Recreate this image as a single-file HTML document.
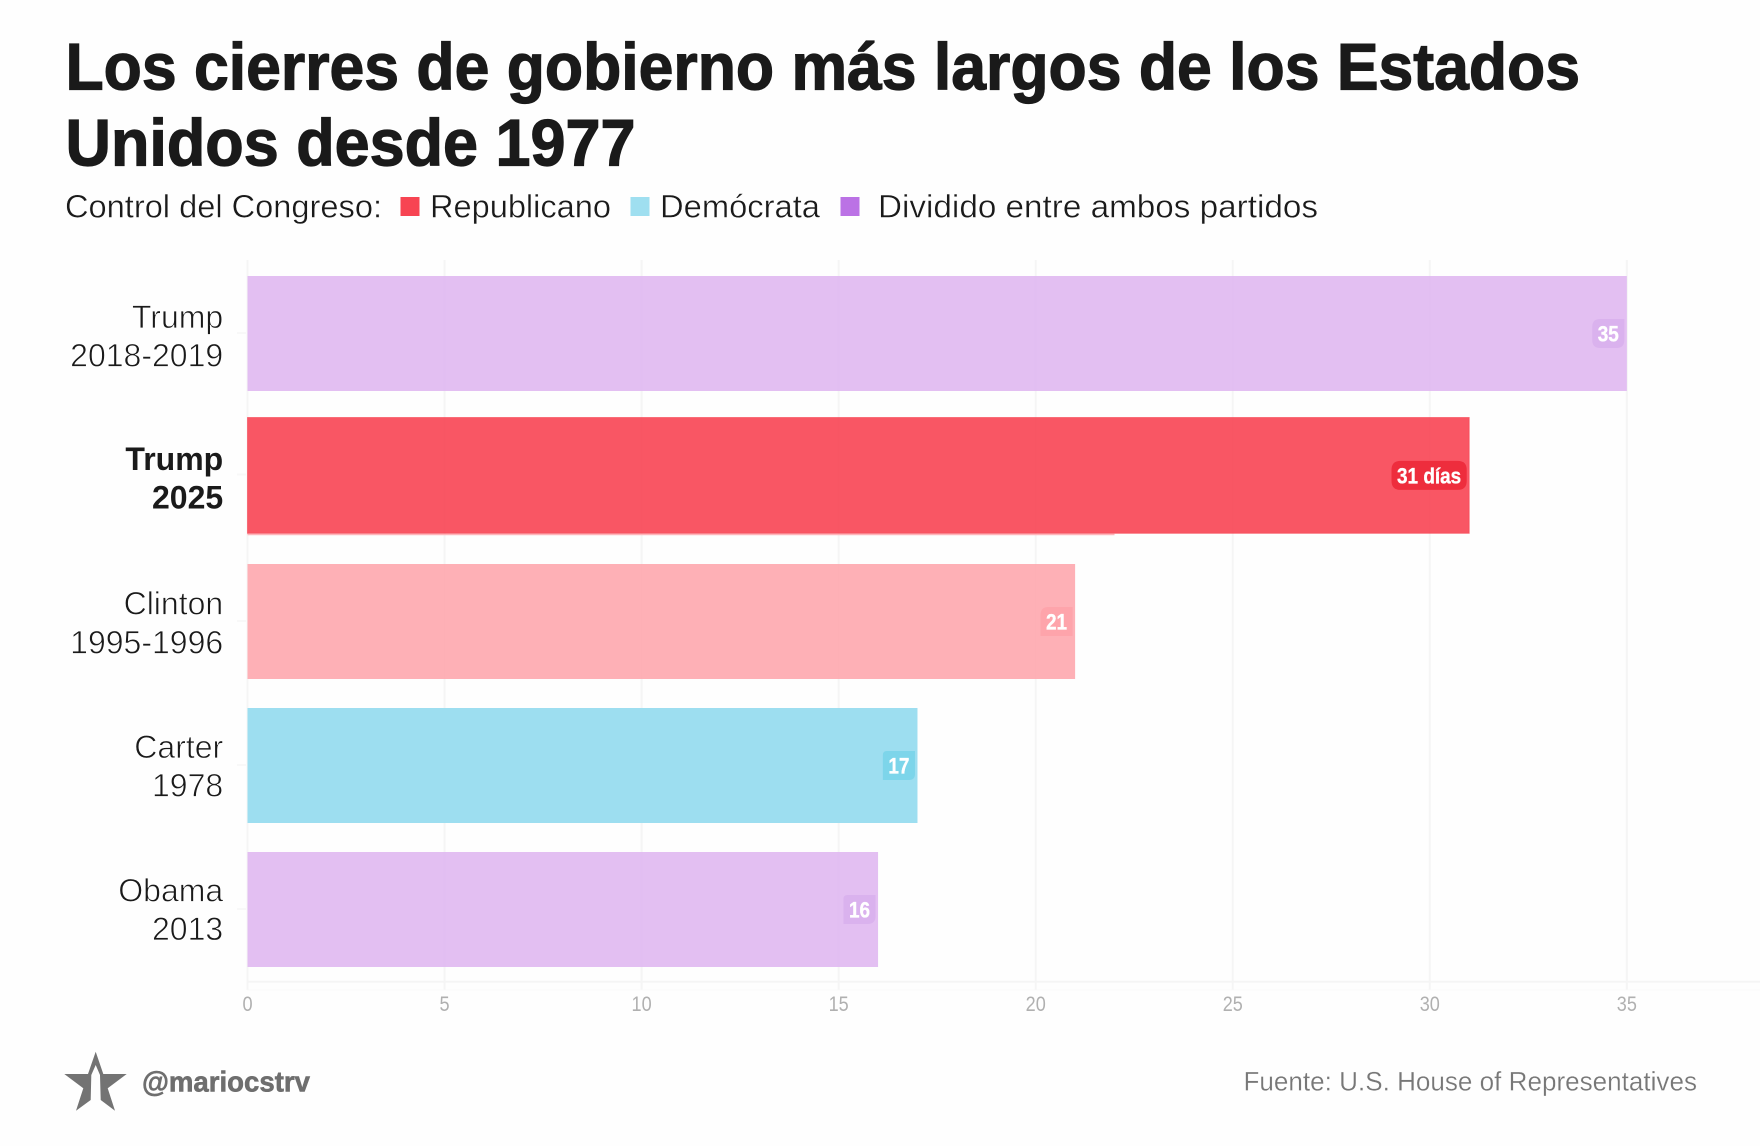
<!DOCTYPE html>
<html lang="es">
<head>
<meta charset="utf-8">
<title>Los cierres de gobierno más largos de los Estados Unidos desde 1977</title>
<style>
html,body{margin:0;padding:0;background:#fff;width:1760px;height:1146px;overflow:hidden}
svg{display:block;font-family:"Liberation Sans",sans-serif}
</style>
</head>
<body>
<svg id="chart" xmlns="http://www.w3.org/2000/svg" width="1760" height="1146" viewBox="0 0 1760 1146">
  <rect width="1760" height="1146" fill="#fefefe"/>
  <g fill="#1a1a1a" stroke="#1a1a1a" stroke-width="1.2" font-weight="700" font-size="66">
    <text x="65.5" y="89.5" textLength="1514.5" lengthAdjust="spacingAndGlyphs">Los cierres de gobierno más largos de los Estados</text>
    <text x="65.5" y="165.5" textLength="570" lengthAdjust="spacingAndGlyphs">Unidos desde 1977</text>
  </g>
  <g fill="#1a1a1a" font-size="32" stroke="#fff" stroke-width="0.4">
    <text x="65" y="217.5" textLength="317" lengthAdjust="spacingAndGlyphs">Control del Congreso:</text>
    <rect x="400.5" y="197" width="19" height="19" fill="#f74452" stroke="none"/>
    <text x="430" y="217.5" textLength="181" lengthAdjust="spacingAndGlyphs">Republicano</text>
    <rect x="630.5" y="197" width="19" height="19" fill="#9fdff0" stroke="none"/>
    <text x="660" y="217.5" textLength="160" lengthAdjust="spacingAndGlyphs">Demócrata</text>
    <rect x="840.5" y="197" width="19" height="19" fill="#bb72e5" stroke="none"/>
    <text x="878" y="217.5" textLength="440" lengthAdjust="spacingAndGlyphs">Dividido entre ambos partidos</text>
  </g>
  <g id="plot"></g>
  <g>
    <polygon fill="#737373" points="95.7,1051.7 103.3,1074 126.7,1074 107.7,1088.3 115,1110.7 100.7,1100 100,1075 95.7,1065 91.3,1075 90.7,1100 76,1110.7 83.3,1088.3 64.3,1074 88,1074"/>
    <text x="142" y="1091.5" font-size="29" font-weight="700" fill="#6e6e6e" stroke="#6e6e6e" stroke-width="0.6" textLength="168" lengthAdjust="spacingAndGlyphs">@mariocstrv</text>
  </g>
  <text x="1243.5" y="1090.5" font-size="27" fill="#777" stroke="#fff" stroke-width="0.25" textLength="453.5" lengthAdjust="spacingAndGlyphs">Fuente: U.S. House of Representatives</text>
</svg>
<script>
const presidents = ['Trump', 'Trump', 'Clinton', 'Carter', 'Obama'];
const periods = ['2018-2019', '2025', '1995-1996', '1978', '2013'];
const days = [35, 31, 21, 17, 16];
const parties = ['dividido', 'republicano', 'republicano', 'democrata', 'dividido'];
const tickValues = [0, 5, 10, 15, 20, 25, 30, 35];
const highlightedIndex = 1;
const ghostValue = 22;

const NS = 'http://www.w3.org/2000/svg';
const plot = document.getElementById('plot');
const xScale = v => 247.5 + v * 39.41;
const bandTop = i => 276 + i * 144 - (i === highlightedIndex ? 2.5 : 0);
const barHeight = i => i === highlightedIndex ? 115.8 : 115;
const bandCenter = i => bandTop(i) + barHeight(i) / 2;
const labelMiddle = i => 347.2 + i * 143.4 - (i === highlightedIndex ? 1.5 : 0);

function make(tag, attrs, parent) {
  const node = document.createElementNS(NS, tag);
  for (const k in attrs) node.setAttribute(k, attrs[k]);
  (parent || plot).appendChild(node);
  return node;
}
function barFill(i) {
  if (i === highlightedIndex) return ['#f83d4d', 0.87];
  if (parties[i] === 'republicano') return ['#fea2a9', 0.85];
  if (parties[i] === 'democrata') return ['#9ddef0', 1];
  return ['#deb4f0', 0.85];
}
function badgeFill(i) {
  if (i === highlightedIndex) return '#ee2d3d';
  if (parties[i] === 'republicano') return '#fea4ab';
  if (parties[i] === 'democrata') return '#7dd5ea';
  return '#dab2ee';
}
function badgeCorners(i) {
  if (i === 0) return [8, 0, 8, 8];
  if (i === 2) return [8, 0, 0, 0];
  if (i === 3) return [4, 0, 6, 0];
  if (i === 4) return [4, 0, 8, 0];
  return [9, 9, 9, 9];
}
function roundedPath(x, y, w, h, r) {
  return 'M' + (x + r[0]) + ' ' + y +
    'H' + (x + w - r[1]) + 'Q' + (x + w) + ' ' + y + ' ' + (x + w) + ' ' + (y + r[1]) +
    'V' + (y + h - r[2]) + 'Q' + (x + w) + ' ' + (y + h) + ' ' + (x + w - r[2]) + ' ' + (y + h) +
    'H' + (x + r[3]) + 'Q' + x + ' ' + (y + h) + ' ' + x + ' ' + (y + h - r[3]) +
    'V' + (y + r[0]) + 'Q' + x + ' ' + y + ' ' + (x + r[0]) + ' ' + y + 'Z';
}
function condense(node, factor) {
  node.setAttribute('textLength', (node.getComputedTextLength() * factor).toFixed(1));
  node.setAttribute('lengthAdjust', 'spacingAndGlyphs');
}

tickValues.forEach(t => {
  const g = make('line', {x1: xScale(t), x2: xScale(t), y1: 260, y2: 990, stroke: '#f5f5f5', 'stroke-width': 2});
  
  
});
const axisLine = make('line', {x1: 247, x2: 1760, y1: 981.7, y2: 981.7, stroke: '#f5f5f5', 'stroke-width': 2});


const axisLine2 = make('line', {x1: 247, x2: 1760, y1: 990, y2: 990, stroke: '#f9f9f9', 'stroke-width': 1});



tickValues.forEach(t => {
  const lab = make('text', {x: xScale(t), y: 1011, 'text-anchor': 'middle', 'font-size': 21, fill: '#b0b0b0'});
  
  
  lab.textContent = t;
  condense(lab, 0.86);
});

const ghost = make('line', {x1: xScale(0), x2: xScale(ghostValue), y1: 534.5, y2: 534.5, stroke: '#ffb6bb', 'stroke-width': 1.5});



days.forEach((v, i) => {
  const tick = make('line', {x1: 237, x2: 246, y1: bandTop(i) + 57, y2: bandTop(i) + 57, stroke: '#f8f8f8', 'stroke-width': 2});
  
  

  const isHi = i === highlightedIndex;
  const fill = barFill(i);
  const bar = make('rect', {x: xScale(0), y: bandTop(i), width: xScale(v) - xScale(0), height: barHeight(i), fill: fill[0], 'fill-opacity': fill[1]});
  if (isHi) {
    bar.setAttribute('stroke', '#f74452');
    bar.setAttribute('stroke-opacity', '0.6');
    bar.setAttribute('stroke-width', '1');
  }
  
  

  const c = bandCenter(i);
  const right = xScale(v) - 8;
  const val = make('text', {x: right, y: c + 8, 'text-anchor': 'end', 'font-size': 22, 'font-weight': 700, fill: '#fff', stroke: '#fff', 'stroke-width': 0.35});
  val.textContent = isHi ? v + ' días' : String(v);
  
  
  condense(val, 0.86);
  const w = parseFloat(val.getAttribute('textLength'));
  const badge = make('path', {d: roundedPath(right - w - 5.5, c - 14.5, w + 11, 29, badgeCorners(i)), fill: badgeFill(i)});
  
  
  plot.appendChild(val);

  const m = labelMiddle(i);
  const name = make('text', {x: 223.2, y: m - 19.3, 'text-anchor': 'end', 'font-size': 32, fill: '#1a1a1a', 'font-weight': isHi ? 700 : 400, stroke: isHi ? 'none' : '#fff', 'stroke-width': 0.7});
  name.textContent = presidents[i];
  
  
  const period = make('text', {x: 223.2, y: m + 19.3, 'text-anchor': 'end', 'font-size': 32, fill: '#1a1a1a', 'font-weight': isHi ? 700 : 400, stroke: isHi ? 'none' : '#fff', 'stroke-width': 0.7});
  period.textContent = periods[i];
  
  
});
</script>
</body>
</html>
